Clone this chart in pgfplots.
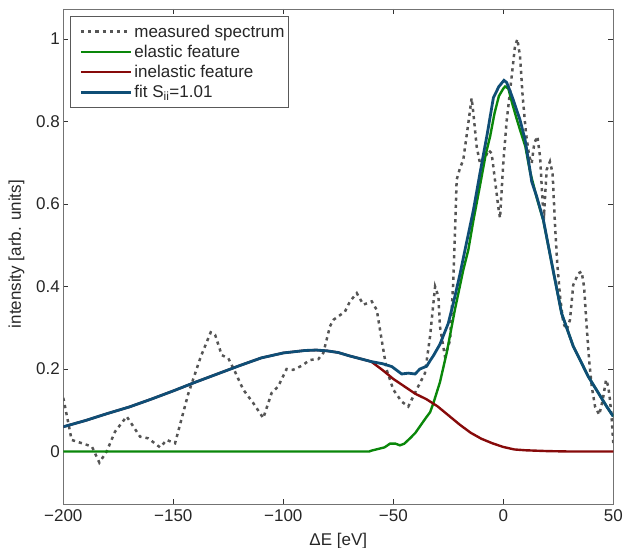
\documentclass[border=0pt]{standalone}
\usepackage{fontspec}
\setmainfont{Liberation Sans}
\usepackage{pgfplots}
\pgfplotsset{compat=1.18}
\definecolor{meas}{RGB}{85,85,85}
\definecolor{elas}{RGB}{10,135,10}
\definecolor{inel}{RGB}{135,10,10}
\definecolor{fitc}{RGB}{15,78,118}
\begin{document}
\begin{tikzpicture}
\useasboundingbox (-63.3pt,-43.7pt) rectangle (559.7pt,504.3pt);
\begin{axis}[
  at={(0pt,0pt)}, anchor=south west,
  scale only axis, width=550pt, height=495.3pt,
  xmin=-200, xmax=50, ymin=-0.128, ymax=1.073,
  xtick={-200,-150,-100,-50,0,50},
  xticklabels={−200,−150,−100,−50,0,50},
  ytick={0,0.2,0.4,0.6,0.8,1},
  yticklabels={0,0.2,0.4,0.6,0.8,1},
  xtick pos=both, ytick pos=both,
  tick align=inside,
  major tick length=5pt,
  axis line style={black!55, line width=0.9pt},
  tick style={black!80, line width=0.6pt},
  ticklabel style={font=\fontsize{17}{19}\selectfont, text=black!85},
  xticklabel style={yshift=-2pt},
  xlabel={ΔE [eV]},
  ylabel={intensity [arb. units]},
  label style={font=\fontsize{17}{19}\selectfont, text=black!85},
  xlabel style={at={(axis description cs:0.5,0)}, anchor=base, yshift=-41.5pt},
  ylabel style={at={(axis description cs:-0.085,0.505)}, anchor=center},
  legend cell align=left,
  legend style={at={(0.0125,0.985)}, anchor=north west, draw=black!65,
    line width=0.8pt, fill=white,
    font=\fontsize{17}{19}\selectfont, text=black!85,
    inner xsep=2pt, inner ysep=6pt, row sep=2.4pt},
  legend image code/.code={\path (0pt,0pt); \draw[#1] (7pt,0pt) -- (57pt,0pt);},
]
\addplot[meas, line width=2.5pt, dash pattern=on 3.2pt off 4pt] coordinates {
(-200,0.13) (-196.2,0.028) (-190.9,0.019) (-187,0.012) (-183.6,-0.027)
(-180.3,0.0) (-176.5,0.048) (-171.2,0.085) (-165.1,0.036) (-161.4,0.032)
(-156,0.01) (-153,0.028) (-149.2,0.02) (-143.2,0.14) (-137.5,0.23)
(-133,0.289) (-131,0.283) (-128,0.234) (-125,0.226) (-122,0.194)
(-118.2,0.15) (-113.6,0.117) (-109.1,0.081) (-105.3,0.142) (-102.3,0.158)
(-98.5,0.2) (-95.5,0.198) (-91.6,0.208) (-87.9,0.222) (-84.1,0.224)
(-81.8,0.239) (-78.8,0.303) (-77.3,0.319) (-72,0.339) (-69.7,0.364)
(-66.6,0.384) (-63.6,0.356) (-59.8,0.364) (-57.5,0.343) (-55.3,0.271)
(-53,0.198) (-50,0.15) (-46.2,0.121) (-43.2,0.109) (-39.4,0.15)
(-35.6,0.19) (-33.3,0.279) (-31,0.40) (-29.5,0.376) (-28.8,0.303)
(-26.5,0.23) (-24.2,0.27) (-22.7,0.416) (-21.2,0.659) (-19.7,0.687)
(-18.2,0.707) (-15.9,0.796) (-14.4,0.857) (-13.6,0.82) (-12.1,0.739)
(-10.6,0.699) (-8.3,0.711) (-6.8,0.731) (-5.3,0.723) (-3.8,0.659)
(-2.3,0.594) (-1.5,0.566) (0,0.70) (1.5,0.80) (3.8,0.909)
(5.3,0.982) (6.4,1.0) (7.6,0.958) (8.8,0.861) (10.3,0.772)
(11.8,0.715) (12.9,0.699) (14.1,0.748) (15.5,0.764) (16.7,0.715)
(17.9,0.602) (18.6,0.582) (19.7,0.683) (21.2,0.703) (22.4,0.675)
(23.5,0.55) (24.5,0.457) (25.8,0.376) (27.3,0.311) (28.8,0.295)
(30.3,0.319) (31.8,0.404) (34.1,0.432) (35.6,0.436) (36.7,0.40)
(37.9,0.303) (39,0.222) (40.2,0.158) (41.7,0.109) (43.6,0.089)
(45.2,0.125) (46.7,0.174) (47.7,0.158) (48.5,0.125) (49.3,0.077)
(50,0.02)
};
\addlegendentry{measured spectrum}
\addplot[elas, line width=2.4pt] coordinates {
(-200,0) (-61,0) (-60,0.002) (-57,0.006) (-54,0.010) (-51.5,0.019)
(-49,0.019) (-47,0.015) (-45,0.019) (-42.4,0.032) (-40,0.045)
(-37.9,0.061) (-35,0.083) (-33.3,0.095) (-31.8,0.117) (-28.8,0.168)
(-25.7,0.24) (-22,0.344) (-18.2,0.44) (-15.9,0.489) (-13.6,0.56)
(-10.6,0.645) (-8,0.72) (-6,0.764) (-4,0.82) (-2,0.862) (0,0.880)
(0.8,0.885) (2.3,0.880) (4,0.845) (6,0.808) (7.6,0.78) (10,0.74)
(12.1,0.68) (15.2,0.615) (18.2,0.56) (22,0.457) (26.5,0.335)
(31.8,0.255) (34.9,0.222) (38.6,0.182) (43.2,0.142) (47,0.109) (50,0.085)
};
\addlegendentry{elastic feature}
\addplot[inel, line width=2.4pt] coordinates {
(-200,0.060) (-190,0.075) (-180,0.092) (-170,0.108) (-160,0.127)
(-150,0.147) (-140,0.168) (-130,0.188) (-120,0.208) (-110,0.227)
(-100,0.239) (-90,0.245) (-85,0.246) (-80,0.244) (-75,0.240)
(-70,0.232) (-65,0.225) (-60,0.218) (-55,0.198) (-50,0.176)
(-45,0.158) (-40,0.140) (-35,0.127) (-30,0.110) (-25,0.088)
(-20,0.066) (-15,0.046) (-10,0.031) (-5,0.020) (0,0.011) (5,0.005)
(10,0.003) (20,0.001) (30,0) (50,0)
};
\addlegendentry{inelastic feature}
\addplot[fitc, line width=2.8pt] coordinates {
(-200,0.060) (-190,0.075) (-180,0.092) (-170,0.108) (-160,0.127)
(-150,0.147) (-140,0.168) (-130,0.188) (-120,0.208) (-110,0.227)
(-100,0.239) (-90,0.245) (-85,0.246) (-80,0.244) (-75,0.240)
(-70,0.232) (-65,0.225) (-60,0.218) (-55,0.213) (-50.7,0.206)
(-46.2,0.188) (-43.2,0.19) (-40.1,0.188) (-37.9,0.2) (-34.8,0.207)
(-33.3,0.22) (-31.8,0.232) (-28.8,0.26) (-25,0.311) (-22.7,0.36)
(-19.7,0.43) (-17.4,0.489) (-13.6,0.585) (-10.6,0.675) (-7.3,0.77)
(-4.5,0.858) (-2,0.885) (0.3,0.90) (1.5,0.895) (3,0.875) (4.5,0.853)
(7.6,0.804) (9.9,0.756) (12.1,0.683) (12.9,0.655) (15.2,0.618)
(18.2,0.562) (22,0.457) (26.5,0.335) (31.8,0.255) (34.9,0.222)
(38.6,0.182) (43.2,0.142) (47,0.109) (50,0.085)
};
\addlegendentry{fit S\textsubscript{ii}=1.01}
\end{axis}
\end{tikzpicture}
\end{document}
